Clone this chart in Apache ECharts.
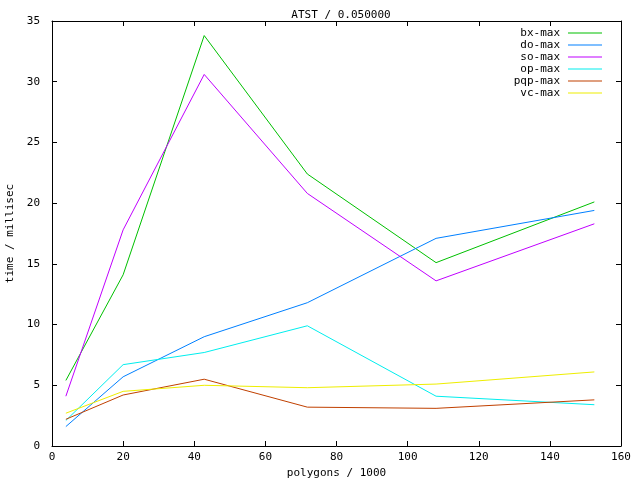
<!DOCTYPE html>
<html>
<head>
<meta charset="utf-8">
<script src="https://cdn.jsdelivr.net/npm/echarts@6/dist/echarts.min.js"></script>
<style>
  html, body { margin: 0; padding: 0; background: #fff; }
  #chart { width: 640px; height: 480px; }
</style>
</head>
<body>
<div id="chart"></div>
<script>
const polygons = [3.9, 20, 42.8, 71.8, 108, 152.5];
const bxMax = [5.4, 14.1, 33.8, 22.4, 15.1, 20.1];
const doMax = [1.6, 5.7, 9.0, 11.8, 17.1, 19.4];
const soMax = [4.1, 17.8, 30.6, 20.8, 13.6, 18.3];
const opMax = [2.1, 6.7, 7.7, 9.9, 4.1, 3.4];
const pqpMax = [2.2, 4.2, 5.5, 3.2, 3.1, 3.8];
const vcMax = [2.7, 4.5, 5.0, 4.8, 5.1, 6.1];

const seriesNames = ["bx-max", "do-max", "so-max", "op-max", "pqp-max", "vc-max"];
const seriesValues = [bxMax, doMax, soMax, opMax, pqpMax, vcMax];
const colors = ["#00c000", "#0080ff", "#c000ff", "#00eeee", "#c04000", "#eeee00"];

const font = "DejaVu Sans Mono";
const fs = 11;

const chart = echarts.init(document.getElementById("chart"));

// gnuplot style frame: axis lines all round, ticks pointing inwards
const frameLine = { show: true, onZero: false, lineStyle: { color: "#000", width: 1 } };
const ticks = { show: true, inside: true, length: 5, lineStyle: { color: "#000" } };

const option = {
  animation: false,
  backgroundColor: "#fff",
  color: colors,
  title: {
    text: "ATST / 0.050000",
    left: 336,
    top: 5,
    textAlign: "center",
    textStyle: { fontFamily: font, fontSize: fs, fontWeight: "normal", color: "#000" },
  },
  legend: {
    orient: "vertical",
    right: 33,
    top: 22,
    align: "right",
    itemGap: 0,
    itemWidth: 34,
    itemHeight: 12,
    icon: "path://M0,5.5 L34,5.5 L34,6.5 L0,6.5 Z",
    textStyle: { fontFamily: font, fontSize: fs, lineHeight: 12, color: "#000", padding: [0, 3, 0, 0] },
    data: seriesNames,
  },
  grid: { left: 52, right: 19, top: 21, bottom: 34, outerBoundsMode: "none" },
  xAxis: [
    {
      type: "value",
      min: 0,
      max: 160,
      interval: 20,
      name: "polygons / 1000",
      nameLocation: "middle",
      nameGap: 18,
      nameTextStyle: { fontFamily: font, fontSize: fs, color: "#000" },
      axisLine: frameLine,
      axisTick: ticks,
      axisLabel: { fontFamily: font, fontSize: fs, color: "#000", margin: 6 },
      splitLine: { show: false },
    },
    {
      type: "value",
      position: "top",
      min: 0,
      max: 160,
      interval: 20,
      axisLine: frameLine,
      axisTick: ticks,
      axisLabel: { show: false },
      splitLine: { show: false },
    },
  ],
  yAxis: [
    {
      type: "value",
      min: 0,
      max: 35,
      interval: 5,
      name: "time / millisec",
      nameLocation: "middle",
      nameGap: 31,
      nameTextStyle: { fontFamily: font, fontSize: fs, color: "#000" },
      axisLine: frameLine,
      axisTick: ticks,
      axisLabel: { fontFamily: font, fontSize: fs, color: "#000", margin: 12 },
      splitLine: { show: false },
    },
    {
      type: "value",
      position: "right",
      min: 0,
      max: 35,
      interval: 5,
      axisLine: frameLine,
      axisTick: ticks,
      axisLabel: { show: false },
      splitLine: { show: false },
    },
  ],
  series: seriesNames.map((name, i) => ({
    name: name,
    type: "line",
    xAxisIndex: 0,
    yAxisIndex: 0,
    data: polygons.map((x, j) => [x, seriesValues[i][j]]),
    symbol: "none",
    lineStyle: { color: colors[i], width: 1 },
    itemStyle: { color: colors[i] },
  })),
};

chart.setOption(option);
</script>
</body>
</html>
